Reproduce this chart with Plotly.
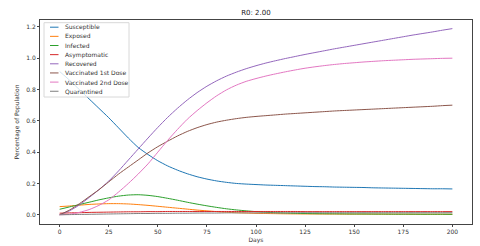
import plotly.graph_objects as go

days = list(range(0, 201, 5))

susceptible = [0.915, 0.86, 0.80, 0.74, 0.68, 0.62, 0.555, 0.49, 0.43, 0.385,
               0.345, 0.312, 0.285, 0.262, 0.243, 0.228, 0.216, 0.207, 0.200, 0.196,
               0.193, 0.190, 0.188, 0.186, 0.184, 0.182, 0.180, 0.179, 0.177, 0.176,
               0.175, 0.174, 0.172, 0.171, 0.170, 0.169, 0.168, 0.167, 0.166, 0.166, 0.165]
exposed = [0.052, 0.056, 0.061, 0.066, 0.069, 0.071, 0.071, 0.069, 0.065, 0.060,
           0.054, 0.048, 0.042, 0.036, 0.030, 0.025, 0.020, 0.016, 0.013, 0.011,
           0.009, 0.008, 0.007, 0.006, 0.0055, 0.005, 0.005, 0.0045, 0.0045, 0.004,
           0.004, 0.004, 0.004, 0.0035, 0.0035, 0.0035, 0.003, 0.003, 0.003, 0.003, 0.003]
infected = [0.035, 0.050, 0.065, 0.080, 0.095, 0.108, 0.119, 0.126, 0.128, 0.124,
            0.116, 0.105, 0.093, 0.080, 0.068, 0.057, 0.047, 0.038, 0.031, 0.025,
            0.020, 0.016, 0.013, 0.011, 0.009, 0.008, 0.007, 0.0065, 0.006, 0.0055,
            0.005, 0.005, 0.0045, 0.0045, 0.004, 0.004, 0.004, 0.0035, 0.0035, 0.0035, 0.003]
asymptomatic = [0.010, 0.012, 0.013, 0.015, 0.016, 0.017, 0.018, 0.019, 0.019, 0.020,
                0.020, 0.021, 0.021, 0.021, 0.021, 0.021, 0.021, 0.021, 0.021, 0.021,
                0.021, 0.021, 0.021, 0.021, 0.021, 0.020, 0.020, 0.020, 0.020, 0.020,
                0.020, 0.020, 0.020, 0.020, 0.020, 0.020, 0.020, 0.020, 0.020, 0.020, 0.020]
recovered = [0.0, 0.025, 0.062, 0.110, 0.160, 0.215, 0.280, 0.350, 0.420, 0.490,
             0.558, 0.622, 0.680, 0.733, 0.780, 0.821, 0.856, 0.886, 0.911, 0.933,
             0.952, 0.969, 0.984, 0.998, 1.011, 1.024, 1.036, 1.048, 1.060, 1.071,
             1.082, 1.093, 1.104, 1.115, 1.126, 1.137, 1.148, 1.158, 1.168, 1.179, 1.189]
vacc_1st = [0.0, 0.030, 0.070, 0.115, 0.160, 0.210, 0.260, 0.305, 0.350, 0.395,
            0.435, 0.470, 0.503, 0.532, 0.556, 0.576, 0.592, 0.604, 0.614, 0.622,
            0.628, 0.633, 0.638, 0.643, 0.647, 0.651, 0.655, 0.659, 0.663, 0.666,
            0.669, 0.672, 0.675, 0.678, 0.681, 0.684, 0.687, 0.690, 0.693, 0.697, 0.700]
vacc_2nd = [0.0, 0.003, 0.015, 0.033, 0.060, 0.095, 0.145, 0.200, 0.260, 0.325,
            0.400, 0.475, 0.545, 0.610, 0.665, 0.715, 0.760, 0.798, 0.828, 0.852,
            0.870, 0.886, 0.900, 0.913, 0.925, 0.936, 0.945, 0.953, 0.960, 0.966,
            0.971, 0.976, 0.980, 0.984, 0.987, 0.990, 0.993, 0.995, 0.997, 0.999, 1.000]
quarantined = [0.0, 0.001, 0.002, 0.003, 0.004, 0.005, 0.006, 0.007, 0.008, 0.008,
               0.009, 0.009, 0.010, 0.010, 0.011, 0.011, 0.011, 0.012, 0.012, 0.012,
               0.012, 0.012, 0.012, 0.012, 0.013, 0.013, 0.013, 0.013, 0.013, 0.013,
               0.013, 0.013, 0.013, 0.013, 0.013, 0.013, 0.013, 0.013, 0.013, 0.013, 0.013]

names = ["Susceptible", "Exposed", "Infected", "Asymptomatic", "Recovered",
         "Vaccinated 1st Dose", "Vaccinated 2nd Dose", "Quarantined"]
series = [susceptible, exposed, infected, asymptomatic, recovered, vacc_1st, vacc_2nd, quarantined]
colors = ["#1f77b4", "#ff7f0e", "#2ca02c", "#d62728", "#9467bd", "#8c564b", "#e377c2", "#7f7f7f"]

x_ticks = [0, 25, 50, 75, 100, 125, 150, 175, 200]
y_ticks = [0.0, 0.2, 0.4, 0.6, 0.8, 1.0, 1.2]

W, H = 480, 246
ML, MR, MT, MB = 40, 8, 20, 22
PW, PH = W - ML - MR, H - MT - MB

def px_to_paper_x(px):
    return (px - ML) / PW

def px_to_paper_y(py):
    return 1 - (py - MT) / PH

fig = go.Figure()
for name, vals, col in zip(names, series, colors):
    fig.add_trace(go.Scatter(x=days, y=vals, mode="lines", name=name, showlegend=False,
                             line=dict(color=col, width=1, shape="spline", smoothing=0.6)))

font = "DejaVu Sans"

# manual legend (matplotlib-style compact legend box)
shapes = [dict(type="rect", xref="paper", yref="paper",
               x0=px_to_paper_x(44), x1=px_to_paper_x(129),
               y0=px_to_paper_y(97), y1=px_to_paper_y(22.7),
               line=dict(color="#d8d8d8", width=1), fillcolor="rgba(255,255,255,0.8)", layer="above")]
annotations = []
for i, (name, col) in enumerate(zip(names, colors)):
    py = 27.2 + 9.15 * i
    shapes.append(dict(type="line", xref="paper", yref="paper",
                       x0=px_to_paper_x(50), x1=px_to_paper_x(58.5),
                       y0=px_to_paper_y(py), y1=px_to_paper_y(py),
                       line=dict(color=col, width=1), layer="above"))
    annotations.append(dict(text=name, xref="paper", yref="paper",
                            x=px_to_paper_x(62.5), y=px_to_paper_y(py),
                            xanchor="left", yanchor="middle", showarrow=False,
                            font=dict(family=font, size=6, color="#333")))

fig.update_layout(
    width=W, height=H,
    margin=dict(l=ML, r=MR, t=MT, b=MB, autoexpand=False),
    paper_bgcolor="white", plot_bgcolor="white",
    font=dict(family=font, size=6, color="#333"),
    title=dict(text="R0: 2.00", x=0.5333, xanchor="center", y=0.947, yanchor="middle",
               font=dict(family=font, size=7, color="#222")),
    showlegend=False,
    shapes=shapes,
    annotations=annotations,
)
fig.update_xaxes(range=[-10, 210], tickvals=x_ticks, ticktext=[str(t) for t in x_ticks],
                 showgrid=False, zeroline=False, showline=True, linecolor="#444", linewidth=1,
                 mirror=True, ticks="outside", ticklen=2, tickcolor="#444", automargin=False,
                 tickfont=dict(size=6, color="#333"),
                 title=dict(text="Days", font=dict(size=6, color="#333"), standoff=3))
fig.update_yaxes(range=[-0.059, 1.244], tickvals=y_ticks, ticktext=[f"{t:.1f}" for t in y_ticks],
                 showgrid=False, zeroline=False, showline=True, linecolor="#444", linewidth=1,
                 mirror=True, ticks="outside", ticklen=2, tickcolor="#444", automargin=False,
                 tickfont=dict(size=6, color="#333"),
                 title=dict(text="Percentage of Population", font=dict(size=6, color="#333"), standoff=6))

fig.write_html("out.html", config={"displayModeBar": False},
               post_script="document.body.style.margin='0';document.body.style.overflow='hidden';")
